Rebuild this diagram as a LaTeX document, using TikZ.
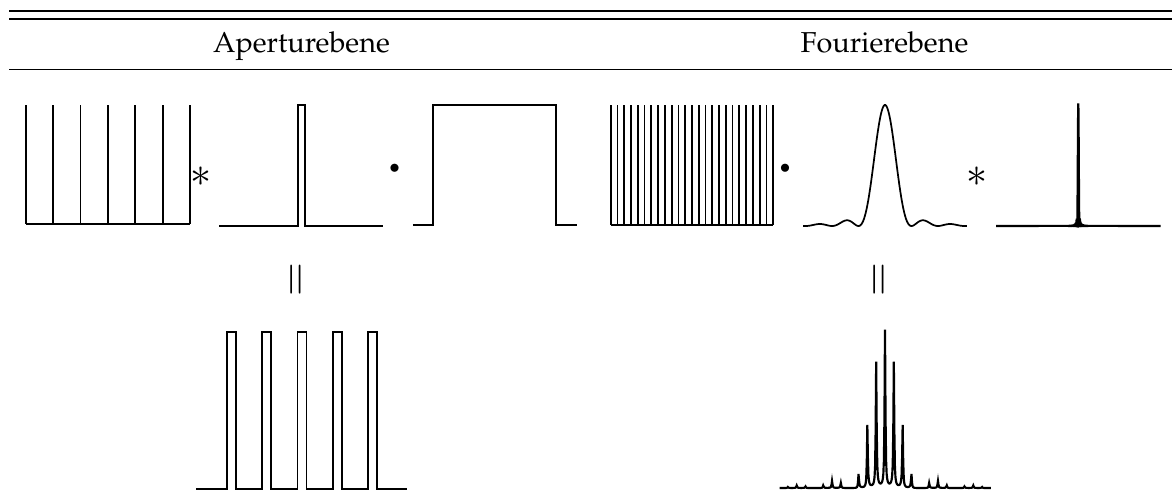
\documentclass[tikz,border=0pt]{standalone}
\usepackage[T1]{fontenc}
\usepackage{mathpazo}
\begin{document}
\begin{tikzpicture}[x=0.3472pt,y=-0.3472pt,
  rulethin/.style={line width=0.6pt},
  rulethick/.style={line width=0.8pt},
  curve/.style={line width=0.6pt, line join=miter},
  spikes/.style={line width=0.75pt, line join=miter},
  head/.style={anchor=base, inner sep=0pt, font=\normalsize},
  op/.style={inner sep=0pt},
  star/.style={inner sep=0pt, font=\fontsize{14}{16}\selectfont},
  eqsign/.style={inner sep=0pt, rotate=90, font=\fontsize{14.5}{16}\selectfont}]
\useasboundingbox (0,0) rectangle (1172,495);

% table rules
\draw[rulethin]  (9,11)   -- (1172,11);
\draw[rulethick] (9,19)   -- (1172,19);
\draw[rulethin]  (9,69.5) -- (1172,69.5);

% column heads
\node[head] (hA) at (301.5,53) {Aperturebene};
\node[head] (hF) at (884.5,53) {Fourierebene};

% aperture plane: comb
\draw[curve] (25.8,224) -- (190,224);
\foreach \i in {0,...,6}{
  \draw[curve] ({25.8+27.37*\i},224) -- ({25.8+27.37*\i},105);
}
\node[star] (s1) at (201,176.7) {$\ast$};

% aperture plane: narrow slit
\draw[curve] (219,226) -- (298.2,226) -- (298.2,105) -- (304.7,105)
  -- (304.7,226) -- (383.4,226);
\node[op] (d1) at (394.7,169.3) {\fontsize{7}{8}\selectfont$\bullet$};

% aperture plane: wide window
\draw[curve] (412.8,225) -- (432.7,225) -- (432.7,105) -- (556.2,105)
  -- (556.2,225) -- (576.5,225);

% Fourier plane: dense comb
\draw[curve] (610.7,225) -- (773,225);
\foreach \i in {0,...,24}{
  \draw[curve] ({610.7+6.771*\i},225) -- ({610.7+6.771*\i},105);
}
\node[op] (d2) at (785,169) {\fontsize{7}{8}\selectfont$\bullet$};

% Fourier plane: broad sinc^2
\draw[curve] plot[domain=-3.09:3.09, samples=200]
  ({885+26.5*\x},{226-121*(sin(180*\x)/(pi*\x))^2});
\node[star] (s2) at (977,177) {$\ast$};

% Fourier plane: narrow sinc^2
\draw[spikes] (996,226) -- plot[domain=-10:10, samples=200]
  ({1078.3+\x},{226-122*(sin(150*\x)/(pi*\x/1.2))^2}) -- (1160.7,226);

% equals signs
\node[eqsign] (e1) at (298.5,279.5) {$=$};
\node[eqsign] (e2) at (881.5,279.5) {$=$};

% result: aperture
\draw[curve] (196,489)
  \foreach \i in {0,...,4}{
    -- ({227+35.25*\i},489) -- ({227+35.25*\i},332)
    -- ({236+35.25*\i},332) -- ({236+35.25*\i},489)
  } -- (407,489);

% result: diffraction pattern
\draw[spikes] plot[samples at={-11.9375,-11.875,...,-0.0625,-0.003,0.003,0.0625,0.125,...,12}]
  ({885+8.83*\x},{488-156*(sin(45*\x)/(pi*\x/4))^2/(1+32*(sin(180*\x))^2)});
\end{tikzpicture}
\end{document}
